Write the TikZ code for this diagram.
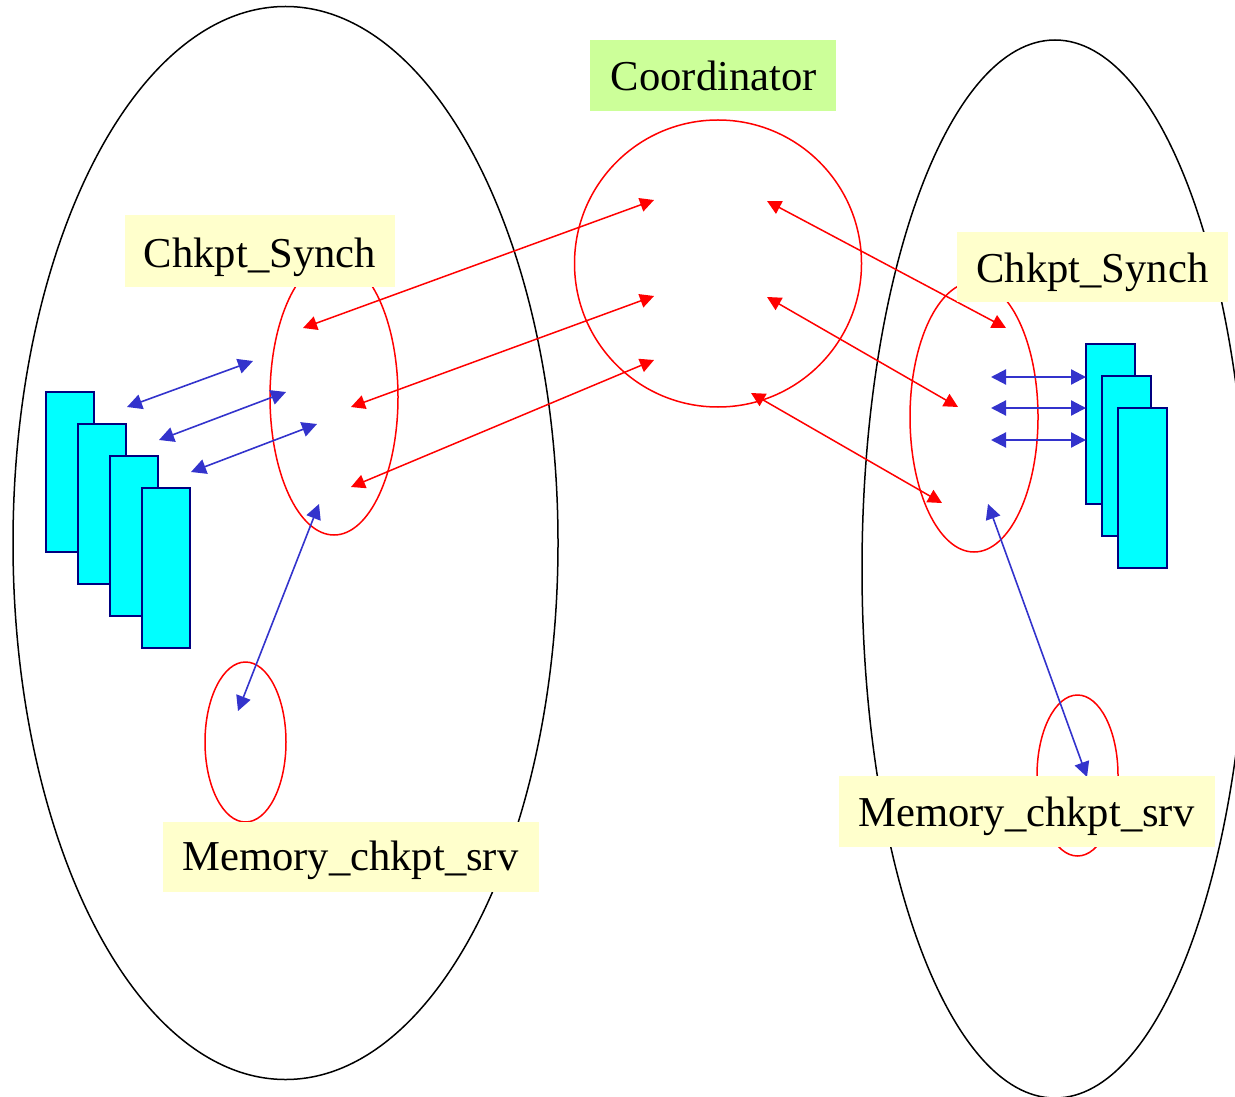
\documentclass[tikz,border=0pt]{standalone}
\usepackage{fontspec}
\setmainfont{Liberation Serif}
\usetikzlibrary{shapes.geometric,arrows.meta}
\definecolor{cred}{HTML}{FF0000}
\definecolor{cblue}{HTML}{3333CC}
\definecolor{ccyan}{HTML}{00FFFF}
\definecolor{cnavy}{HTML}{000080}
\definecolor{cyel}{HTML}{FFFFCC}
\definecolor{cgreen}{HTML}{CCFF99}
\tikzset{
  bigell/.style={draw=black, line width=0.75pt, ellipse, inner sep=0pt},
  redell/.style={draw=cred, line width=0.75pt, ellipse, inner sep=0pt},
  proc/.style={draw=cnavy, fill=ccyan, line width=1pt, rectangle, inner sep=0pt, minimum height=80pt},
  redarr/.style={draw=cred, line width=0.75pt, {Triangle[length=7pt,width=7pt]}-{Triangle[length=7pt,width=7pt]}},
  bluearr/.style={draw=cblue, line width=0.8pt, {Triangle[length=7.5pt,width=7.5pt]}-{Triangle[length=7.5pt,width=7.5pt]}},
  bluearrb/.style={draw=cblue, line width=1.1pt, {Triangle[length=7.5pt,width=7.5pt]}-{Triangle[length=7.5pt,width=7.5pt]}},
  lbox/.style={rectangle, inner sep=0pt, fill=cyel},
  ltxt/.style={anchor=base west, inner sep=0pt, font=\fontsize{21.3pt}{25pt}\selectfont}
}
\begin{document}
\begin{tikzpicture}[x=0.5pt,y=-0.5pt]
\useasboundingbox (0,0) rectangle (1235,1096);
\clip (0,0) rectangle (1235,1096);
% big host ellipses
\node[bigell, minimum width=272.5pt, minimum height=536.5pt] (hostL) at (285.5,543) {};
\node[bigell, minimum width=193pt, minimum height=529pt] (hostR) at (1055,569) {};
% coordinator circle
\node[redell, minimum width=143.5pt, minimum height=143.5pt] (coord) at (718,263.5) {};
% chkpt synch ellipses
\node[redell, minimum width=64pt, minimum height=138pt] (chkL) at (334,397) {};
\node[redell, minimum width=64pt, minimum height=135pt] (chkR) at (974,417) {};
% memory ellipses
\node[redell, minimum width=40.5pt, minimum height=80pt] (memL) at (245.5,742) {};
\node[redell, minimum width=40.5pt, minimum height=80.5pt] (memR) at (1077.5,775.5) {};
% processes left
\node[proc, minimum width=24pt] (pL1) at (70,472) {};
\node[proc, minimum width=24pt] (pL2) at (102,504) {};
\node[proc, minimum width=24pt] (pL3) at (134,536) {};
\node[proc, minimum width=24pt] (pL4) at (166,568) {};
% processes right
\node[proc, minimum width=24.5pt] (pR1) at (1110.5,424) {};
\node[proc, minimum width=24.5pt] (pR2) at (1126.5,456) {};
\node[proc, minimum width=24.5pt] (pR3) at (1142.5,488) {};
% arrow end points
\coordinate (bl1a) at (127,407); \coordinate (bl1b) at (253,361);
\coordinate (bl2a) at (159,440); \coordinate (bl2b) at (286,392);
\coordinate (bl3a) at (191,472); \coordinate (bl3b) at (317,424);
\coordinate (blma) at (238,711); \coordinate (blmb) at (319,504);
\coordinate (br1a) at (991,377); \coordinate (br1b) at (1086,377);
\coordinate (br2a) at (991,408); \coordinate (br2b) at (1086,408);
\coordinate (br3a) at (991,440); \coordinate (br3b) at (1086,440);
\coordinate (brma) at (988,504); \coordinate (brmb) at (1087,777);
\coordinate (r1a) at (303,328); \coordinate (r1b) at (654,200);
\coordinate (r2a) at (351,407); \coordinate (r2b) at (654,296);
\coordinate (r3a) at (351,487); \coordinate (r3b) at (654,360);
\coordinate (r4a) at (767,201); \coordinate (r4b) at (1006,328);
\coordinate (r5a) at (767,297); \coordinate (r5b) at (958,407);
\coordinate (r6a) at (751,393); \coordinate (r6b) at (942,503);
% blue arrows
\draw[bluearr] (bl1a) -- (bl1b);
\draw[bluearr] (bl2a) -- (bl2b);
\draw[bluearr] (bl3a) -- (bl3b);
\draw[bluearr] (blma) -- (blmb);
\draw[bluearrb] (br1a) -- (br1b);
\draw[bluearrb] (br2a) -- (br2b);
\draw[bluearrb] (br3a) -- (br3b);
\draw[bluearr] (brma) -- (brmb);
% red arrows
\draw[redarr] (r1a) -- (r1b);
\draw[redarr] (r2a) -- (r2b);
\draw[redarr] (r3a) -- (r3b);
\draw[redarr] (r4a) -- (r4b);
\draw[redarr] (r5a) -- (r5b);
\draw[redarr] (r6a) -- (r6b);
% label boxes
\node[lbox, fill=cgreen, minimum width=123pt, minimum height=35.5pt] (coordbox) at (713,75.5) {};
\node[lbox, minimum width=135pt, minimum height=36pt] (chkLbox) at (260,251) {};
\node[lbox, minimum width=135.5pt, minimum height=35pt] (chkRbox) at (1092.5,267) {};
\node[lbox, minimum width=188pt, minimum height=35pt] (memLbox) at (351,857) {};
\node[lbox, minimum width=188pt, minimum height=35.5pt] (memRbox) at (1027,811.5) {};
% label texts
\node[ltxt] (coordtxt) at (610.5,90.5) {Coordinator};
\node[ltxt] (chkLtxt) at (143.5,268) {Chkpt\_Synch};
\node[ltxt] (chkRtxt) at (976,283) {Chkpt\_Synch};
\node[ltxt] (memLtxt) at (182,870.5) {Memory\_chkpt\_srv};
\node[ltxt] (memRtxt) at (858,826.5) {Memory\_chkpt\_srv};
\end{tikzpicture}
\end{document}
